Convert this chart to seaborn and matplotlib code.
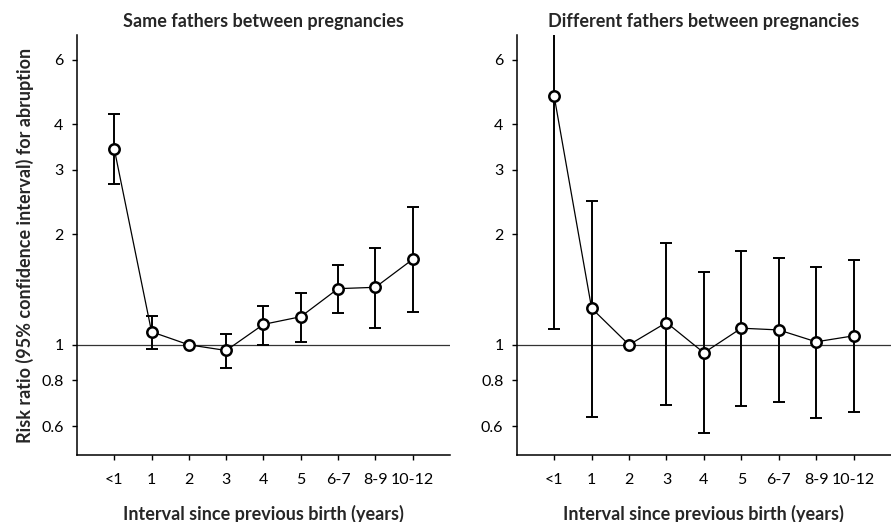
import numpy as np
import matplotlib
matplotlib.use("Agg")
import matplotlib.pyplot as plt
import seaborn as sns

# interval categories
intervalos = ["<1", "1", "2", "3", "4", "5", "6-7", "8-9", "10-12"]

# same fathers: risk ratio and 95% CI
mesmo_rr = [3.42, 1.085, 1.0, 0.965, 1.137, 1.193, 1.423, 1.435, 1.71]
mesmo_inf = [2.74, 0.977, 1.0, 0.867, 1.0, 1.019, 1.221, 1.111, 1.226]
mesmo_sup = [4.26, 1.198, 1.0, 1.072, 1.279, 1.386, 1.653, 1.84, 2.37]

# different fathers
dif_rr = [4.76, 1.258, 1.0, 1.15, 0.951, 1.11, 1.098, 1.019, 1.058]
dif_inf = [1.103, 0.636, 1.0, 0.687, 0.573, 0.68, 0.698, 0.632, 0.654]
dif_sup = [7.6, 2.47, 1.0, 1.90, 1.575, 1.80, 1.72, 1.63, 1.70]

y_ticks = [0.6, 0.8, 1, 2, 3, 4, 6]
y_labels = ["0.6", "0.8", "1", "2", "3", "4", "6"]

sns.set_style("ticks")
plt.rcParams["font.family"] = ["Lato", "DejaVu Sans"]

fig = plt.figure(figsize=(8.91, 5.22), dpi=100)
ax1 = fig.add_axes([0.0864, 0.128, 0.4186, 0.805])
ax2 = fig.add_axes([0.58, 0.128, 0.42, 0.805])


def desenha(ax, rr, inf, sup, titulo):
    pos = np.arange(len(intervalos))
    rr = np.array(rr)
    err = [rr - np.array(inf), np.array(sup) - rr]
    ax.axhline(1, color="#333333", lw=0.9, zorder=1)
    ax.errorbar(pos, rr, yerr=err, fmt="none", ecolor="black", elinewidth=1.4,
                capsize=4, capthick=1.4, zorder=2)
    sns.lineplot(x=pos, y=rr, ax=ax, color="black", lw=0.9, marker="o",
                 markersize=7.5, markerfacecolor="white", markeredgecolor="black",
                 markeredgewidth=1.8, zorder=3)
    ax.set_yscale("log")
    ax.set_ylim(0.5, 7)
    ax.set_xlim(-1, 9)
    ax.set_yticks(y_ticks)
    ax.set_yticklabels(y_labels)
    ax.yaxis.set_minor_locator(matplotlib.ticker.NullLocator())
    ax.set_xticks(pos)
    ax.set_xticklabels(intervalos)
    ax.tick_params(axis="both", labelsize=11.5, length=3.6, width=1, colors="black")
    ax.tick_params(axis="x", pad=9)
    ax.tick_params(axis="y", pad=6)
    ax.spines["top"].set_visible(False)
    ax.spines["right"].set_visible(False)
    for s in ["left", "bottom"]:
        ax.spines[s].set_linewidth(1.1)
        ax.spines[s].set_color("black")
    ax.set_title(titulo, fontsize=13, fontweight="bold", pad=6)
    ax.set_xlabel("Interval since previous birth (years)", fontsize=13,
                  fontweight="bold", labelpad=13)


desenha(ax1, mesmo_rr, mesmo_inf, mesmo_sup, "Same fathers between pregnancies")
desenha(ax2, dif_rr, dif_inf, dif_sup, "Different fathers between pregnancies")
ax1.set_ylabel("Risk ratio (95% confidence interval) for abruption", fontsize=13,
               fontweight="bold", labelpad=5)

fig.savefig("out.png", dpi=100)
